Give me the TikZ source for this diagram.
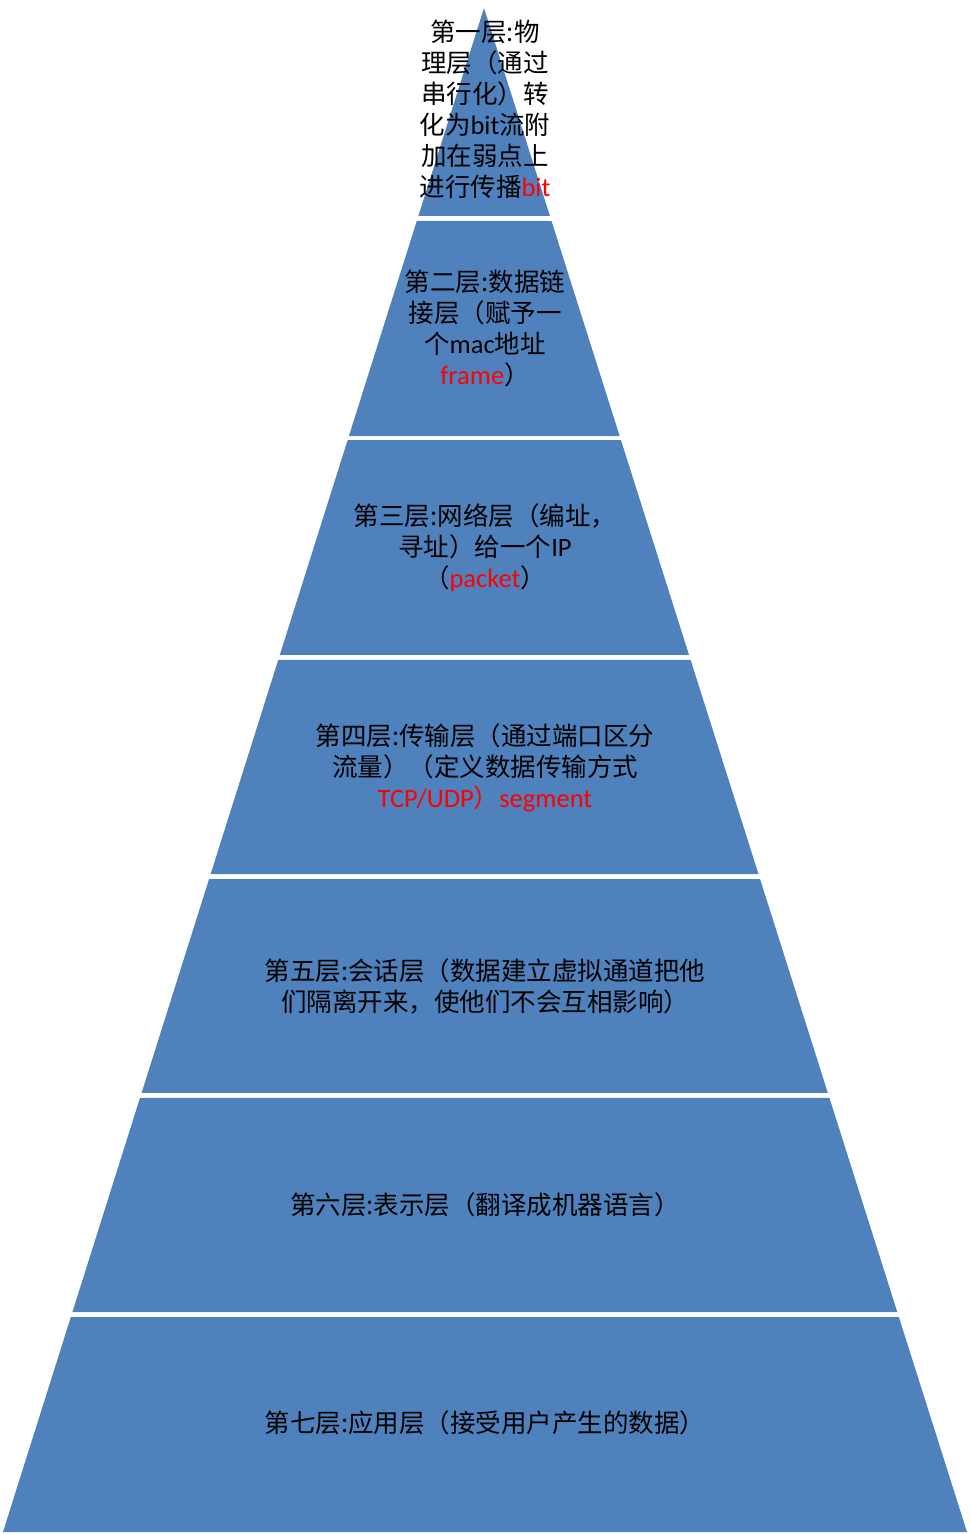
\documentclass[tikz,border=0pt]{standalone}
\usepackage{fontspec}
\setmainfont{Noto Sans CJK SC}
\newfontfamily\latfont[Scale=1.04]{Carlito}
\usetikzlibrary{calc}
\definecolor{layerblue}{HTML}{4F81BD}
\definecolor{redtxt}{HTML}{FF0000}
\newcommand{\lw}[1]{{\latfont #1}}
\newcommand{\rd}[1]{\textcolor{redtxt}{#1}}
\begin{document}
\begin{tikzpicture}[x=1pt,y=-1pt,
  layer/.style={fill=layerblue},
  lbl/.style={align=center, inner sep=0pt, text=black, font=\fontsize{25.5}{31}\selectfont}]
\useasboundingbox (0,0) rectangle (970,1535);
\coordinate (A) at (484,8);
\coordinate (BL) at (3,1532);
\coordinate (BR) at (967,1532);
\foreach \t/\b in {8/216,221/436,440/655,660/874,879/1093,1098/1312,1317/1532}{
  \fill[layer] ($(A)!{(\t-8)/1524}!(BL)$) -- ($(A)!{(\t-8)/1524}!(BR)$)
    -- ($(A)!{(\b-8)/1524}!(BR)$) -- ($(A)!{(\b-8)/1524}!(BL)$) -- cycle;
}
\node[lbl] (l1) at (485,109) {第一层:物\\理层（通过\\串行化）转\\化为\lw{bit}流附\\加在弱点上\\进行传播\rd{\lw{bit}}};
\node[lbl] (l2) at (485,328.5) {第二层:数据链\\接层（赋予一\\个\lw{mac}地址\\\rd{\lw{frame}}）};
\node[lbl] (l3) at (485,548) {第三层:网络层（编址，\\寻址）给一个\lw{IP}\\（\rd{\lw{packet}}）};
\node[lbl] (l4) at (485,767.5) {第四层:传输层（通过端口区分\\流量）（定义数据传输方式\\\rd{\lw{TCP/UDP}）\lw{segment}}};
\node[lbl] (l5) at (485,986) {第五层:会话层（数据建立虚拟通道把他\\们隔离开来，使他们不会互相影响）};
\node[lbl] (l6) at (485,1205) {第六层:表示层（翻译成机器语言）};
\node[lbl] (l7) at (485,1423) {第七层:应用层（接受用户产生的数据）};
\end{tikzpicture}
\end{document}
